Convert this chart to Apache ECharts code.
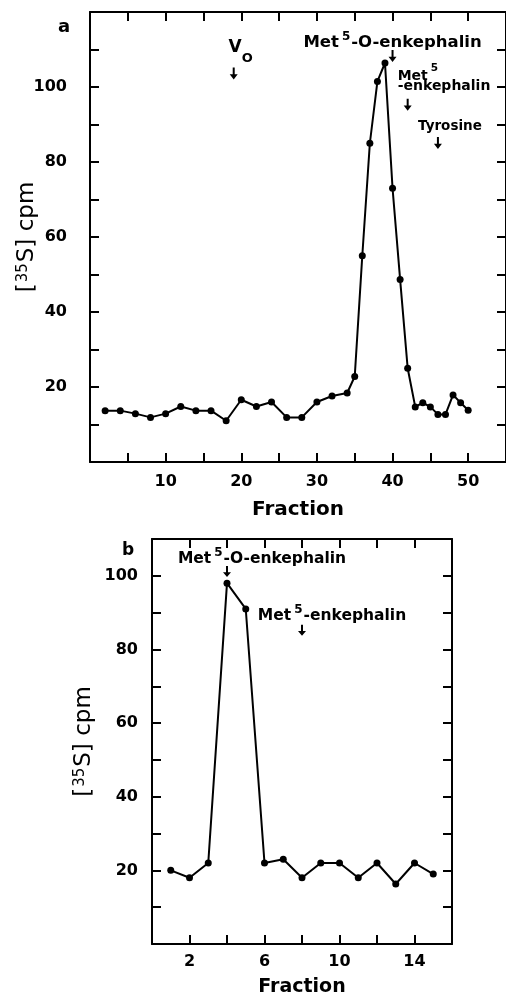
<!DOCTYPE html>
<html>
<head>
    <meta charset="utf-8"/>
    <title>[35S] cpm</title>
    <script src="https://cdn.jsdelivr.net/npm/echarts@6.0.0/dist/echarts.min.js"></script>
    <style>html, body { margin: 0; padding: 0; background: #fff; }</style>
</head>
<body>

<div id="main" style="width: 506px;height:995px;"></div>

<script>
    // panel a
    var fractionA = [2, 4, 6, 8, 10, 12, 14, 16, 18, 20, 22, 24, 26, 28, 30, 32, 34,
        35, 36, 37, 38, 39, 40, 41, 42, 43, 44, 45, 46, 47, 48, 49, 50];
    var cpmA = [13.7, 13.7, 12.9, 11.9, 12.9, 14.8, 13.7, 13.7, 11.0, 16.6, 14.8, 16.0, 11.9, 11.9, 16.0, 17.6, 18.4,
        22.8, 55, 85, 101.5, 106.4, 73, 48.7, 25, 14.7, 15.8, 14.7, 12.7, 12.7, 17.9, 15.8, 13.8];

    // panel b
    var fractionB = [1, 2, 3, 4, 5, 6, 7, 8, 9, 10, 11, 12, 13, 14, 15];
    var cpmB = [20, 18, 22, 98, 91, 22, 23, 18, 22, 22, 18, 22, 16.3, 22, 19];

    // arrows (elution markers)
    var markFracA = [19, 40, 42, 46];
    var markCpmA = [103.6, 108.3, 95.3, 85.1];
    var markTextA = ['{v|V}{o|O}', '{m|Met}{s|5}{m|-O-enkephalin}', '{m2|Met}{s2|5}\n{e|-enkephalin}', '{t|Tyrosine}'];

    var markFracB = [4, 8];
    var markCpmB = [101.2, 85.2];
    var markTextB = ['{m|Met}{s|5}{m|-O-enkephalin}', '{m|Met}{s|5}{m|-enkephalin}'];

    var font = 'DejaVu Sans';
    var arrow = 'path://M3,0L5,0L5,8L8,8L4,14L0,8L3,8Z';

    var axisLine = {show: true, onZero: false, lineStyle: {color: '#000', width: 2}};
    var axisTick = {show: true, inside: true, length: 9, lineStyle: {color: '#000', width: 2}};

    function txt(size, lh, va, pad, weight) {
        var o = {color: '#000', fontFamily: font, fontWeight: weight || 'bold', fontSize: size, lineHeight: lh};
        if (va) o.verticalAlign = va;
        if (pad) o.padding = pad;
        return o;
    }

    function xAxes(grid, max, step, fmt, margin, gap, nameSize) {
        return [{
            type: 'value', gridIndex: grid, min: 0, max: max, interval: step, position: 'bottom',
            axisLine: axisLine, axisTick: axisTick, splitLine: {show: false},
            axisLabel: {formatter: fmt, margin: margin, color: '#000', fontFamily: font, fontWeight: 'bold', fontSize: 16},
            name: 'Fraction', nameLocation: 'middle', nameGap: gap, nameMoveOverlap: false,
            nameTextStyle: {color: '#000', fontFamily: font, fontWeight: 'bold', fontSize: nameSize}
        }, {
            type: 'value', gridIndex: grid, min: 0, max: max, interval: step, position: 'top',
            axisLine: axisLine, axisTick: axisTick, splitLine: {show: false}, axisLabel: {show: false}
        }];
    }

    function yAxes(grid, max, margin, gap) {
        return [{
            type: 'value', gridIndex: grid, min: 0, max: max, interval: 10, position: 'left',
            axisLine: axisLine, axisTick: axisTick, splitLine: {show: false},
            axisLabel: {
                formatter: function (v) { return (v > 0 && v <= 100 && v % 20 === 0) ? v : ''; },
                margin: margin, color: '#000', fontFamily: font, fontWeight: 'bold', fontSize: 16
            },
            name: '{m|[}{s|35}{m|S] cpm}', nameLocation: 'middle', nameGap: gap, nameMoveOverlap: false,
            nameTextStyle: {
                color: '#000', fontFamily: font, fontSize: 23,
                rich: {
                    m: txt(23, 23, 'bottom', null, 'normal'),
                    s: txt(15, 11, 'top', [0, 1, 0, 1], 'normal')
                }
            }
        }, {
            type: 'value', gridIndex: grid, min: 0, max: max, interval: 10, position: 'right',
            axisLine: axisLine, axisTick: axisTick, splitLine: {show: false}, axisLabel: {show: false}
        }];
    }

    var richA = {
        v: txt(17, 17, 'top'),
        o: txt(13, 13, 'top', [13, 0, 0, 0]),
        m: txt(16.5, 16.5, 'bottom'),
        s: txt(12, 21, 'top', [0, 1, 0, 3]),
        m2: txt(14, 14, 'bottom'),
        s2: txt(10.5, 20.3, 'top', [0, 0, 0, 3]),
        e: txt(14, 10, 'bottom'),
        t: txt(13.5, 13.5)
    };
    var richB = {
        m: txt(15.5, 15.5, 'bottom'),
        s: txt(12, 20, 'top', [0, 1, 0, 3])
    };
    // label placement of each arrow caption
    var labelA = [
        {offset: [7, 0], distance: 11},
        {offset: [0, 0], distance: -1.5},
        {offset: [-10, 0], distance: 5.5, align: 'left'},
        {offset: [12, 0], distance: 3.5}
    ];
    var labelB = [
        {offset: [35, 0], distance: -1},
        {offset: [30, 0], distance: 1}
    ];

    function lineSeries(xi, yi, xs, ys) {
        return {
            type: 'line', xAxisIndex: xi, yAxisIndex: yi,
            data: xs.map(function (x, i) { return [x, ys[i]]; }),
            symbol: 'circle', symbolSize: 7, showAllSymbol: true,
            itemStyle: {color: '#000', opacity: 1}, lineStyle: {color: '#000', width: 2}, silent: true
        };
    }

    function markSeries(xi, yi, xs, ys, texts, labels, rich, size) {
        return {
            type: 'scatter', xAxisIndex: xi, yAxisIndex: yi, symbol: arrow, symbolSize: size,
            itemStyle: {color: '#000', opacity: 1}, silent: true, z: 5,
            data: xs.map(function (x, i) {
                return {value: [x, ys[i]], label: labels[i]};
            }),
            label: {
                show: true, position: 'top', color: '#000', opacity: 1, fontFamily: font, fontWeight: 'bold', rich: rich,
                formatter: function (p) { return texts[p.dataIndex]; }
            }
        };
    }

    var myChart = echarts.init(document.getElementById('main'));

    var option = {
        backgroundColor: '#fff',
        animation: false,
        grid: [
            {left: 90, top: 12, right: 0, bottom: 533, outerBoundsMode: 'none', containLabel: false},
            {left: 152, top: 539, width: 300, bottom: 51, outerBoundsMode: 'none', containLabel: false}
        ],
        xAxis: [].concat(
            xAxes(0, 55, 5, function (v) { return (v > 0 && v <= 50 && v % 10 === 0) ? v : ''; }, 12, 38, 20),
            xAxes(1, 16, 2, function (v) { return (v % 4 === 2) ? v : ''; }, 10, 33.5, 19)
        ),
        yAxis: [].concat(yAxes(0, 120, 23, 51), yAxes(1, 110, 14, 56)),
        graphic: [
            {type: 'text', x: 64, y: 27, style: {text: 'a', font: 'bold 18px "DejaVu Sans"', align: 'center', verticalAlign: 'middle', fill: '#000'}},
            {type: 'text', x: 128, y: 551, style: {text: 'b', font: 'bold 17px "DejaVu Sans"', align: 'center', verticalAlign: 'middle', fill: '#000'}}
        ],
        series: [
            lineSeries(0, 0, fractionA, cpmA),
            markSeries(0, 0, markFracA, markCpmA, markTextA, labelA, richA, [8, 12]),
            lineSeries(2, 2, fractionB, cpmB),
            markSeries(2, 2, markFracB, markCpmB, markTextB, labelB, richB, [8, 11])
        ]
    };

    myChart.setOption(option);
</script>
</body>
</html>
